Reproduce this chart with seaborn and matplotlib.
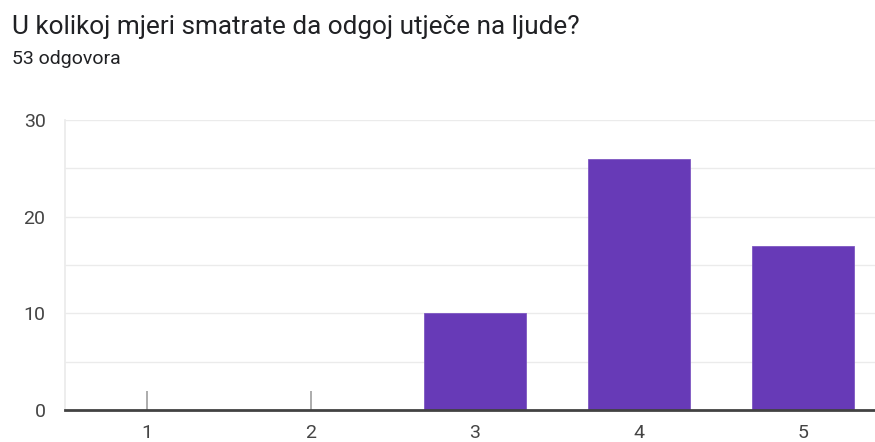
import matplotlib
matplotlib.use("Agg")
import matplotlib.pyplot as plt
import seaborn as sns
import pandas as pd
import numpy as np

categories = ["1", "2", "3", "4", "5"]
counts = [0, 0, 10, 26, 17]
title = "U kolikoj mjeri smatrate da odgoj utječe na ljude?"
subtitle = "53 odgovora"

sns.set_theme(style="white")
plt.rcParams["font.family"] = ["Roboto", "DejaVu Sans"]

df = pd.DataFrame({"cat": categories, "n": counts})

fig = plt.figure(figsize=(8.75, 4.42), dpi=100)
ax = fig.add_axes([65/875, 1-410/442, 810/875, 290/442])

sns.barplot(data=df, x="cat", y="n", color="#673ab7", width=0.62,
            edgecolor="#7e57c2", linewidth=0.6, ax=ax, zorder=3, saturation=1)

# zero markers for empty categories
zero_pos = [i for i, v in enumerate(counts) if v == 0]
ax.vlines(zero_pos, 0, 2, color="#9e9e9e", lw=1.2, zorder=4)

ax.set_xlim(-0.5, -0.5 + 810/164)
ax.set_ylim(0, 30)
ax.set_yticks([0, 10, 20, 30])
ax.set_yticks([5, 15, 25], minor=True)
ax.grid(axis="y", which="both", color="#ebebeb", lw=1, zorder=0)
ax.set_xlabel("")
ax.set_ylabel("")
for s in ["top", "right"]:
    ax.spines[s].set_visible(False)
ax.spines["left"].set_color("#ebebeb")
ax.spines["bottom"].set_color("#424242")
ax.spines["bottom"].set_linewidth(2)
ax.spines["bottom"].set_zorder(5)
ax.tick_params(axis="both", which="both", length=0, labelsize=14, labelcolor="#444444")
ax.tick_params(axis="y", pad=14)
ax.tick_params(axis="x", pad=10)

fig.text(12/875, 1-27/442, title, fontsize=18.8, color="#202124", va="center", ha="left")
fig.text(12/875, 1-59/442, subtitle, fontsize=14, color="#202124", va="center", ha="left")

fig.savefig("out.png", dpi=100)
